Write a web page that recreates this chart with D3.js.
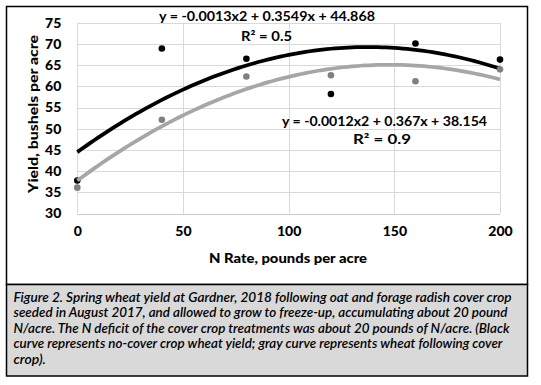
<!DOCTYPE html>
<html><head><meta charset="utf-8">
<script src="https://cdn.jsdelivr.net/npm/d3@7"></script>
<style>
html,body{margin:0;padding:0;background:#fff;}
svg{display:block;}
text{font-family:Lato,"Open Sans",sans-serif;}
</style></head>
<body><svg id="c" width="541" height="385"></svg>
<script>
// ---- data ----
const nRates = [0, 40, 80, 120, 160, 200];
const noCoverYield = [37.8, 68.9, 66.5, 58.2, 70.1, 66.3];
const coverYield = [36.1, 52.1, 62.3, 62.6, 61.2, 64.0];
const xTicks = [0, 50, 100, 150, 200];
const yTicks = [30, 35, 40, 45, 50, 55, 60, 65, 70, 75];
const eqNoCover = "y = -0.0013x2 + 0.3549x + 44.868";
const r2NoCover = "R² = 0.5";
const eqCover = "y = -0.0012x2 + 0.367x + 38.154";
const r2Cover = "R² = 0.9";
const xTitle = "N Rate, pounds per acre";
const yTitle = "Yield, bushels per acre";
const captionLines = [
  "Figure 2. Spring wheat yield at Gardner, 2018 following oat and forage radish cover crop",
  "seeded in August 2017, and allowed to grow to freeze-up,  accumulating  about 20 pound",
  "N/acre. The N deficit of the cover crop treatments was about 20 pounds of N/acre.  (Black",
  "curve represents no-cover  crop wheat yield; gray curve represents  wheat following cover",
  "crop)."
];

const svg = d3.select("#c");
const x = d3.scaleLinear().domain([0, 200]).range([77.3, 500]);
const y = d3.scaleLinear().domain([30, 75]).range([213.5, 22.7]);

// frame
svg.append("rect").attr("x", 6.5).attr("y", 6.5).attr("width", 521).attr("height", 278)
  .attr("fill", "#fff").attr("stroke", "#000").attr("stroke-width", 1.5);
svg.append("rect").attr("x", 6.5).attr("y", 284.5).attr("width", 521).attr("height", 91.5)
  .attr("fill", "#d9d9d9").attr("stroke", "#000").attr("stroke-width", 1.5);

// gridlines
const g = svg.append("g");
g.selectAll("line.h").data(yTicks).join("line")
  .attr("x1", x(0)).attr("x2", x(200)).attr("y1", d => Math.round(y(d)) + 0.5).attr("y2", d => Math.round(y(d)) + 0.5)
  .attr("stroke", d => d === 30 ? "#c8c8c8" : "#d9d9d9").attr("stroke-width", 1);
g.selectAll("line.v").data(xTicks).join("line")
  .attr("y1", y(30)).attr("y2", y(75)).attr("x1", d => Math.round(x(d)) + 0.5).attr("x2", d => Math.round(x(d)) + 0.5)
  .attr("stroke", "#d9d9d9").attr("stroke-width", 1);

// axis labels via d3 axes (no domain/ticks lines)
const ya = svg.append("g").attr("transform", `translate(${x(0)},0)`)
  .call(d3.axisLeft(y).tickValues(yTicks).tickSize(0).tickPadding(16));
ya.select(".domain").remove();
ya.selectAll("text").attr("font-family", "Lato").attr("font-weight", "900").attr("font-size", 14).attr("fill", "#000");
const xa = svg.append("g").attr("transform", `translate(0,${y(30)})`)
  .call(d3.axisBottom(x).tickValues(xTicks).tickSize(0).tickPadding(13));
xa.select(".domain").remove();
xa.selectAll("text").attr("font-family", "Lato").attr("font-weight", "900").attr("font-size", 14).attr("fill", "#000");

// titles
svg.append("text").attr("x", 288).attr("y", 262.5).attr("text-anchor", "middle")
  .attr("font-weight", "900").attr("font-size", 14).attr("textLength", 158).attr("lengthAdjust", "spacingAndGlyphs").text(xTitle);
svg.append("text").attr("transform", "translate(38,114) rotate(-90)").attr("text-anchor", "middle")
  .attr("font-weight", "900").attr("font-size", 14).attr("textLength", 158).attr("lengthAdjust", "spacingAndGlyphs").text(yTitle);

// least-squares quadratic fit (as Excel's polynomial trendline)
function quadFit(xs, ys) {
  const n = xs.length;
  let s = [0,0,0,0,0], t = [0,0,0];
  for (let i = 0; i < n; i++) {
    for (let k = 0; k < 5; k++) s[k] += Math.pow(xs[i], k);
    for (let k = 0; k < 3; k++) t[k] += ys[i] * Math.pow(xs[i], k);
  }
  const A = [[s[0], s[1], s[2], t[0]], [s[1], s[2], s[3], t[1]], [s[2], s[3], s[4], t[2]]];
  for (let i = 0; i < 3; i++) {
    for (let j = i + 1; j < 3; j++) {
      const f = A[j][i] / A[i][i];
      for (let k = i; k < 4; k++) A[j][k] -= f * A[i][k];
    }
  }
  const c = [0,0,0];
  for (let i = 2; i >= 0; i--) {
    let v = A[i][3];
    for (let k = i + 1; k < 3; k++) v -= A[i][k] * c[k];
    c[i] = v / A[i][i];
  }
  return xv => c[0] + c[1] * xv + c[2] * xv * xv;
}
const fitBlack = quadFit(nRates, noCoverYield);
const fitGray = quadFit(nRates, coverYield);
const xs = d3.range(0, 201, 2);
const line = f => d3.line().x(d => x(d)).y(d => y(f(d)))(xs);

const pts = (vals) => nRates.map((d, i) => ({ x: d, y: vals[i] }));

svg.append("g").selectAll("circle").data(pts(noCoverYield)).join("circle")
  .attr("cx", d => x(d.x)).attr("cy", d => y(d.y)).attr("r", 3.3).attr("fill", "#000");
svg.append("path").attr("d", line(fitBlack)).attr("fill", "none").attr("stroke", "#000").attr("stroke-width", 3.75);
svg.append("path").attr("d", line(fitGray)).attr("fill", "none").attr("stroke", "#a6a6a6").attr("stroke-width", 3.75);
svg.append("g").selectAll("circle").data(pts(coverYield)).join("circle")
  .attr("cx", d => x(d.x)).attr("cy", d => y(d.y)).attr("r", 3.3).attr("fill", "#808080");

// equation labels
const eq = (txt, cx, by, w) => svg.append("text").attr("x", cx).attr("y", by).attr("text-anchor", "middle")
  .attr("font-weight", "bold").attr("font-size", 14).attr("textLength", w).attr("lengthAdjust", "spacingAndGlyphs").text(txt);
eq(eqNoCover, 267, 20.5, 216);
eq(r2NoCover, 266.5, 41, 51);
eq(eqCover, 384.5, 126, 205);
eq(r2Cover, 382, 144, 58);

// caption
const capW = [498, 494, 496, 489, null];
captionLines.forEach((l, i) => {
  const t = svg.append("text").attr("x", 13.5).attr("y", 302 + i * 15.4)
    .attr("font-style", "italic").attr("font-weight", "600").attr("font-size", 14).attr("fill", "#000").text(l);
  if (capW[i]) t.attr("textLength", capW[i]).attr("lengthAdjust", "spacingAndGlyphs");
});
</script></body></html>
